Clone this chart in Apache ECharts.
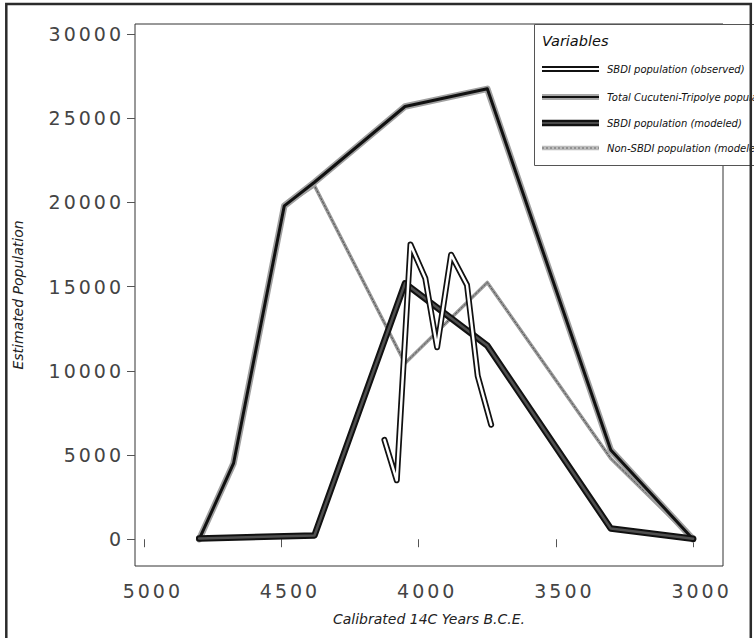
<!DOCTYPE html>
<html lang="en">
<head>
<meta charset="utf-8">
<title>Estimated Population</title>
<script src="https://cdn.jsdelivr.net/npm/echarts@6.0.0/dist/echarts.min.js"></script>
<style>
  html, body { margin: 0; padding: 0; background: #fff; }
  #chart { width: 754px; height: 638px; }
  /* tick labels in the original are spaced out */
  #chart text[style*="19px"] { letter-spacing: 3px; }
</style>
</head>
<body>
<div id="chart"></div>
<script>
// modeled series share these years
const years = [4800, 4675, 4490, 4380, 4050, 3750, 3300, 3000];
const totalPop = [0, 4500, 19800, 21200, 25700, 26750, 5300, 0];
const nonSbdiPop = [0, 4500, 19800, 21000, 10450, 15250, 4800, 0];
const modeledYears = [4800, 4380, 4050, 3750, 3300, 3000];
const modeledPop = [50, 220, 15200, 11500, 640, 30];
// observed SBDI counts
const observedYears = [4125, 4080, 4030, 3976, 3933, 3882, 3824, 3785, 3736];
const observedPop = [5900, 3500, 17500, 15500, 11400, 16900, 15100, 9700, 6800];

const xTicks = [5000, 4500, 4000, 3500, 3000];
const yTicks = [0, 5000, 10000, 15000, 20000, 25000, 30000];
const legendNames = [
  'SBDI population (observed)',
  'Total Cucuteni-Tripolye population',
  'SBDI population (modeled)',
  'Non-SBDI population (modeled)'
];

const chart = echarts.init(document.getElementById('chart'), null, { renderer: 'svg' });

function pairs(xs, ys) {
  return xs.map(function (x, i) { return [x, ys[i]]; });
}

function line(data, color, width, dash) {
  return {
    type: 'line',
    data: data,
    symbol: 'none',
    silent: true,
    lineStyle: { color: color, width: width, join: 'round', cap: 'round', type: dash || 'solid' }
  };
}

const total = pairs(years, totalPop);
const nonSbdi = pairs(years, nonSbdiPop);
const modeled = pairs(modeledYears, modeledPop);
const observed = pairs(observedYears, observedPop);

// legend icons, drawn by hand because of the double strokes
const iconY = [69, 97, 123, 148];
const iconStyles = [
  [['#111', 6], ['#fff', 2]],
  [['#a8a8a8', 6], ['#111', 2]],
  [['#111', 6.5], ['#4a4a4a', 2]],
  [['#bdbdbd', 4.5], ['#666', 1, [2, 2]]]
];
const legendChildren = [
  { type: 'rect', shape: { x: 534.5, y: 24.5, width: 300, height: 141 },
    style: { fill: '#fff', stroke: '#555', lineWidth: 1 } },
  { type: 'text', x: 542, y: 41,
    style: { text: 'Variables', font: 'italic 14.5px "DejaVu Sans"', fill: '#111', verticalAlign: 'middle' } }
];
legendNames.forEach(function (name, i) {
  iconStyles[i].forEach(function (s) {
    legendChildren.push({
      type: 'line', shape: { x1: 542, y1: iconY[i], x2: 599, y2: iconY[i] },
      style: { stroke: s[0], lineWidth: s[1], lineDash: s[2] || null }
    });
  });
  legendChildren.push({
    type: 'text', x: 607, y: iconY[i],
    style: { text: name, font: 'italic 10px "DejaVu Sans"', fill: '#111', verticalAlign: 'middle' }
  });
});

const plain = function (v) { return String(v); };

chart.setOption({
  animation: false,
  grid: {
    left: 135, right: 31, top: 24, bottom: 72,
    show: true, borderColor: '#333', borderWidth: 1, backgroundColor: '#fff'
  },
  xAxis: {
    type: 'value',
    inverse: true,
    min: 2891,
    max: 5034,
    name: 'Calibrated 14C Years B.C.E.',
    nameLocation: 'middle',
    nameGap: 46,
    nameTextStyle: { fontFamily: 'DejaVu Sans', fontStyle: 'italic', fontSize: 14, color: '#222' },
    axisLine: { show: false },
    axisTick: { show: true, length: 8, lineStyle: { color: '#555' }, customValues: xTicks },
    axisLabel: {
      customValues: xTicks, formatter: plain, margin: 15, padding: [0, 0, 0, 17],
      fontFamily: 'DejaVu Sans', fontSize: 19, color: '#444'
    },
    splitLine: { show: false }
  },
  yAxis: {
    type: 'value',
    min: -1590,
    max: 30600,
    name: 'Estimated Population',
    nameLocation: 'middle',
    nameGap: 110,
    nameTextStyle: { fontFamily: 'DejaVu Sans', fontStyle: 'italic', fontSize: 14, color: '#222' },
    axisLine: { show: false },
    axisTick: { show: true, length: 8, lineStyle: { color: '#555' }, customValues: yTicks },
    axisLabel: {
      customValues: yTicks, formatter: plain, margin: 11,
      fontFamily: 'DejaVu Sans', fontSize: 19, color: '#444'
    },
    splitLine: { show: false }
  },
  series: [
    line(nonSbdi, '#9a9a9a', 3.5),
    line(nonSbdi, '#555', 1, [2, 2]),
    line(total, '#a0a0a0', 6.5),
    line(total, '#111', 3),
    line(modeled, '#111', 6.5),
    line(modeled, '#505050', 2.5),
    line(observed, '#111', 6),
    line(observed, '#fff', 2.5)
  ],
  graphic: [
    { type: 'group', z: 50, children: legendChildren },
    { type: 'rect', z: 60, shape: { x: 6.3, y: 4, width: 744.5, height: 700 },
      style: { fill: null, stroke: '#2b2b2b', lineWidth: 2.5 } }
  ]
});

window.addEventListener('resize', function () { chart.resize(); });
</script>
</body>
</html>
